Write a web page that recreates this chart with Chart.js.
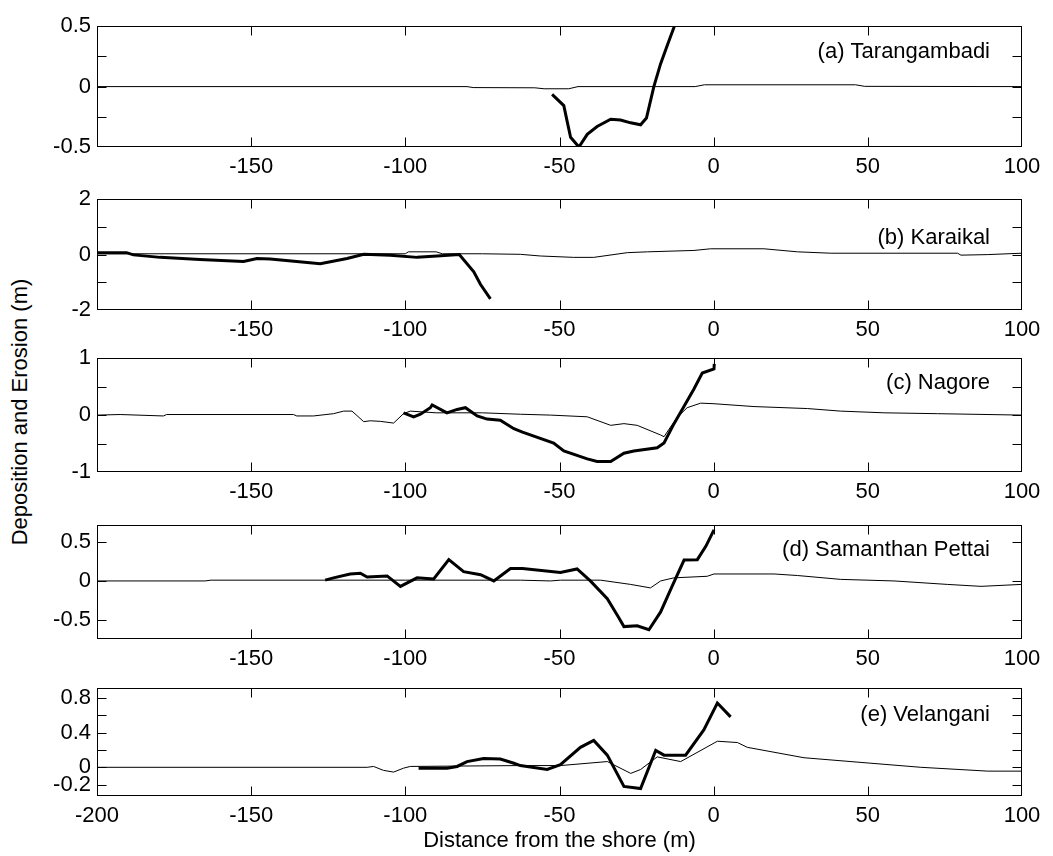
<!DOCTYPE html>
<html>
<head>
<meta charset="utf-8">
<script src="https://cdn.jsdelivr.net/npm/chart.js@4.4.1/dist/chart.umd.min.js"></script>
<style>
  body { margin: 0; background: #fff; width: 1053px; height: 856px; position: relative; overflow: hidden;
         font-family: "Liberation Sans", Arial, sans-serif; }
  .panel { position: absolute; left: 0; width: 1053px; }
  #ytitle { position: absolute; left: 20px; top: 412px; transform: translate(-50%, -50%) rotate(-90deg);
            font-size: 22px; white-space: nowrap; color: #000; }
</style>
</head>
<body>
<div id="ytitle">Deposition and Erosion (m)</div>
<script>
// x axis (distance from the shore, m)
const xTicks = [-200, -150, -100, -50, 0, 50, 100];

// (a) Tarangambadi
const aThinX  = [-200, -80, -78, -58, -55, -47, -44, -6, -3, 46, 49, 100];
const aThinY  = [0, 0, -0.008, -0.01, -0.018, -0.018, 0, 0, 0.015, 0.015, 0.002, 0];
const aThickX = [-52.4, -48.6, -47.5, -46.4, -43.7, -41.0, -37.8, -33.4, -30.2, -26.9, -23.7, -21.8, -19.4, -17.2, -15.0, -12.9, -12];
const aThickY = [-0.065, -0.157, -0.29, -0.42, -0.50, -0.395, -0.33, -0.27, -0.276, -0.30, -0.316, -0.26, 0.0, 0.19, 0.345, 0.49, 0.56];
const aYTicks = [-0.5, -0.25, 0, 0.25, 0.5];
const aYLabels = [-0.5, 0, 0.5];

// (b) Karaikal
const bThinX  = [-200, -100, -99, -90, -88, -75, -62.7, -56.2, -45.4, -38.9, -28, -21.5, -6.4, -1, 16.3, 27.2, 38, 79.1, 80.2, 88.9, 100];
const bThinY  = [0.03, 0.03, 0.1, 0.1, 0.03, 0.03, 0.01, -0.05, -0.1, -0.1, 0.07, 0.1, 0.15, 0.21, 0.21, 0.1, 0.05, 0.05, -0.02, 0, 0.05];
const bThickX = [-200, -190.4, -188.2, -179.5, -166.6, -152.5, -148.1, -143.8, -127.6, -118.9, -113.5, -104.9, -96.2, -89.7, -82.5, -77.8, -75.6, -72.4];
const bThickY = [0.07, 0.07, -0.01, -0.1, -0.18, -0.25, -0.14, -0.16, -0.33, -0.14, 0.01, -0.02, -0.1, -0.05, 0.0, -0.62, -1.08, -1.6];
const bYTicks = [-2, -1, 0, 1, 2];
const bYLabels = [-2, 0, 2];

// (c) Nagore
const cThinX  = [-200, -192.5, -178.5, -177.4, -136.3, -135.2, -129.8, -123.3, -120, -117.3, -113.5, -111.4, -108.1, -103.8, -100.6, -98.4, -90, -75, -62.7, -52.9, -41, -33.4, -29.1, -24.8, -17.2, -16.1, -14, -11.8, -8.6, -4.2, 0.1, 13.1, 30.4, 41.2, 55.3, 72.6, 100];
const cThinY  = [0, 0.01, -0.015, 0.01, 0.01, -0.015, -0.015, 0.025, 0.07, 0.07, -0.115, -0.1, -0.11, -0.14, 0.025, 0.07, 0.04, 0.04, 0.015, 0, -0.03, -0.18, -0.15, -0.18, -0.35, -0.38, -0.21, -0.04, 0.13, 0.21, 0.2, 0.15, 0.115, 0.07, 0.04, 0.025, 0];
const cThickX = [-100.6, -97.3, -95.1, -91.9, -91.3, -86.5, -83.2, -80.5, -76.7, -73.5, -69.2, -64.8, -62, -51.9, -48.6, -41.0, -37.8, -33.4, -29.1, -25.9, -18.3, -16.1, -12.9, -9.6, -6.4, -3.7, 0.1, 0.2];
const cThickY = [0.04, -0.03, 0.015, 0.13, 0.18, 0.04, 0.1, 0.13, -0.015, -0.07, -0.09, -0.24, -0.3, -0.49, -0.63, -0.77, -0.815, -0.815, -0.67, -0.63, -0.575, -0.49, -0.155, 0.155, 0.46, 0.74, 0.81, 0.9];
const cYTicks = [-1, -0.5, 0, 0.5, 1];
const cYLabels = [-1, 0, 1];

// (d) Samanthan Pettai
const dThinX  = [-200, -165, -163, -100, -62.7, -52.9, -49.7, -36.7, -26.9, -20.5, -17.2, -12.9, -2.1, 0.1, 19.6, 27.2, 41.2, 58.5, 75.9, 86.7, 99.7];
const dThinY  = [0, 0, 0.01, 0.01, 0.01, 0, 0.01, 0.01, -0.045, -0.09, 0, 0.04, 0.06, 0.09, 0.09, 0.07, 0.02, 0, -0.045, -0.07, -0.045];
const dThickX = [-126, -123.3, -117.9, -114.6, -112.4, -105.9, -101.6, -96.2, -90.8, -85.9, -81.1, -75.6, -71.3, -65.9, -62, -49.7, -44.3, -40.0, -34.5, -31, -29.1, -24.8, -21.0, -17.2, -13.5, -9.6, -5.3, -2.5, 0.1];
const dThickY = [0.01, 0.04, 0.09, 0.1, 0.05, 0.065, -0.07, 0.04, 0.025, 0.275, 0.12, 0.08, 0, 0.16, 0.16, 0.11, 0.155, 0, -0.23, -0.46, -0.59, -0.58, -0.63, -0.40, -0.07, 0.27, 0.275, 0.45, 0.66];
const dYTicks = [-0.5, 0, 0.5];
const dYLabels = [-0.5, 0, 0.5];

// (e) Velangani
const eThinX  = [-200, -112.4, -110.3, -107.1, -103.8, -100.6, -98.4, -62.7, -49.7, -34.5, -26.9, -23.7, -18.3, -10.7, 1.2, 7.7, 10.9, 29.3, 51.0, 67.2, 88.9, 99.7];
const eThinY  = [0, 0, 0.01, -0.035, -0.055, -0.01, 0.01, 0.02, 0.02, 0.066, -0.07, -0.025, 0.12, 0.066, 0.30, 0.285, 0.23, 0.11, 0.047, 0, -0.044, -0.044];
const eThickX = [-95.7, -86.5, -83.2, -80, -74.6, -69.2, -64.8, -62.7, -54, -49.7, -43.2, -38.9, -34.5, -29.1, -23.7, -18.8, -16.1, -9.1, -3.2, 1.2, 5.5];
const eThickY = [-0.01, -0.01, 0.01, 0.066, 0.1, 0.095, 0.047, 0.02, -0.025, 0.03, 0.23, 0.31, 0.14, -0.22, -0.245, 0.195, 0.14, 0.14, 0.43, 0.74, 0.58];
const eYTicks = [-0.2, 0, 0.2, 0.4, 0.6, 0.8];
const eYLabels = [-0.2, 0, 0.4, 0.8];

const FONT = '"Liberation Sans", Arial, sans-serif';
Chart.defaults.font.family = FONT;
Chart.defaults.font.size = 22;
Chart.defaults.color = '#000';

const PAD_TOP = 14;
const PLOT_LEFT = 97;
const PAD_RIGHT = 31;

function toPts(xs, ys) {
  return xs.map((x, i) => ({ x: x, y: ys[i] }));
}

// box round the plot + inward tick marks + station name
const framePlugin = {
  id: 'frame',
  afterDatasetsDraw(chart, args, opts) {
    const { ctx, chartArea: a, scales } = chart;
    const L = Math.round(a.left) + 0.5, R = Math.round(a.right) - 0.5;
    const T = Math.round(a.top) + 0.5, B = Math.round(a.bottom) - 0.5;
    ctx.save();
    ctx.strokeStyle = '#000';
    ctx.lineWidth = 1;
    ctx.strokeRect(L, T, R - L, B - T);
    ctx.beginPath();
    xTicks.forEach(v => {
      const px = Math.round(scales.x.getPixelForValue(v)) + 0.5;
      if (px - L < 2 || R - px < 2) return;
      ctx.moveTo(px, T); ctx.lineTo(px, T + 9);
      ctx.moveTo(px, B); ctx.lineTo(px, B - 9);
    });
    opts.yTicks.forEach(v => {
      const py = Math.round(scales.y.getPixelForValue(v)) + 0.5;
      if (py - T < 2 || B - py < 2) return;
      ctx.moveTo(L, py); ctx.lineTo(L + 9, py);
      ctx.moveTo(R, py); ctx.lineTo(R - 9, py);
    });
    ctx.stroke();
    ctx.fillStyle = '#000';
    ctx.font = '22px ' + FONT;
    ctx.textAlign = 'right';
    ctx.textBaseline = 'middle';
    ctx.fillText(opts.label, a.right - 32, a.top + opts.labelDy);
    ctx.restore();
  }
};

function makePanel(p) {
  const h = PAD_TOP + (p.bottom - p.top) + p.axisH;
  const box = document.createElement('div');
  box.className = 'panel';
  box.style.top = (p.top - PAD_TOP) + 'px';
  box.style.height = h + 'px';
  const cv = document.createElement('canvas');
  cv.width = 1053;
  cv.height = h;
  box.appendChild(cv);
  document.body.appendChild(box);

  new Chart(cv, {
    type: 'line',
    data: {
      datasets: [
        { data: toPts(p.thinX, p.thinY), borderColor: '#000', borderWidth: 1, pointRadius: 0, tension: 0, fill: false },
        { data: toPts(p.thickX, p.thickY), borderColor: '#000', borderWidth: 3, pointRadius: 0, tension: 0, fill: false }
      ]
    },
    options: {
      responsive: false,
      animation: false,
      events: [],
      layout: { padding: { top: PAD_TOP, right: PAD_RIGHT, left: 0, bottom: 0 } },
      plugins: {
        legend: { display: false },
        tooltip: { enabled: false },
        frame: { yTicks: p.yTicks, label: p.label, labelDy: p.labelDy }
      },
      scales: {
        x: {
          type: 'linear',
          min: -200,
          max: 100,
          afterBuildTicks: s => { s.ticks = xTicks.map(v => ({ value: v })); },
          afterFit: s => { s.height = p.axisH; },
          grid: { display: false, drawTicks: false },
          border: { display: false },
          ticks: {
            padding: 7,
            maxRotation: 0,
            autoSkip: false,
            callback: v => (p.firstX || v !== -200) ? String(v) : ''
          },
          title: p.xTitle
            ? { display: true, text: p.xTitle, font: { size: 22 }, padding: { top: 0, bottom: 2 } }
            : { display: false }
        },
        y: {
          min: p.yMin,
          max: p.yMax,
          afterBuildTicks: s => { s.ticks = p.yTicks.map(v => ({ value: v })); },
          afterFit: s => { s.width = PLOT_LEFT; },
          grid: { display: false, drawTicks: false },
          border: { display: false },
          ticks: {
            padding: 6,
            autoSkip: false,
            callback: v => p.yLabels.includes(v) ? String(v) : ''
          }
        }
      }
    },
    plugins: [framePlugin]
  });
}

makePanel({ top: 21, bottom: 147, axisH: 40, yMin: -0.5, yMax: 0.5, yTicks: aYTicks, yLabels: aYLabels,
  thinX: aThinX, thinY: aThinY, thickX: aThickX, thickY: aThickY, label: '(a) Tarangambadi', labelDy: 26 });
makePanel({ top: 194, bottom: 310, axisH: 40, yMin: -2, yMax: 2, yTicks: bYTicks, yLabels: bYLabels,
  thinX: bThinX, thinY: bThinY, thickX: bThickX, thickY: bThickY, label: '(b) Karaikal', labelDy: 39 });
makePanel({ top: 353, bottom: 472, axisH: 40, yMin: -1, yMax: 1, yTicks: cYTicks, yLabels: cYLabels,
  thinX: cThinX, thinY: cThinY, thickX: cThickX, thickY: cThickY, label: '(c) Nagore', labelDy: 25 });
makePanel({ top: 520, bottom: 639, axisH: 40, yMin: -0.75, yMax: 0.72, yTicks: dYTicks, yLabels: dYLabels,
  thinX: dThinX, thinY: dThinY, thickX: dThickX, thickY: dThickY, label: '(d) Samanthan Pettai', labelDy: 25 });
makePanel({ top: 683, bottom: 796, axisH: 60, yMin: -0.33, yMax: 0.91, yTicks: eYTicks, yLabels: eYLabels,
  thinX: eThinX, thinY: eThinY, thickX: eThickX, thickY: eThickY, label: '(e) Velangani', labelDy: 27,
  firstX: true, xTitle: 'Distance from the shore (m)' });
</script>
</body>
</html>
